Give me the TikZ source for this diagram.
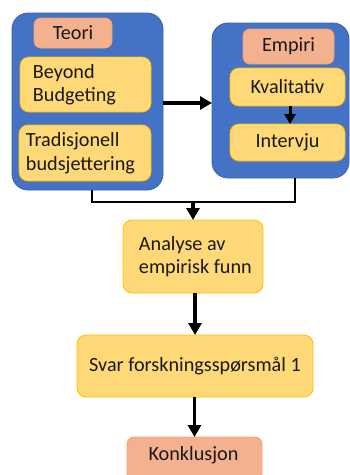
\documentclass[tikz,border=0pt]{standalone}
\usepackage{fontspec}
\setmainfont{Carlito}
\usetikzlibrary{arrows.meta}
\definecolor{cblue}{HTML}{4472C4}
\definecolor{cblueb}{HTML}{3A62AD}
\definecolor{cyel}{HTML}{FFD978}
\definecolor{cyelb}{HTML}{FFC000}
\definecolor{csal}{HTML}{F4B18F}
\definecolor{csalb}{HTML}{ED7D31}
\begin{document}
\begin{tikzpicture}[x=1pt,y=-1pt,
  every node/.style={font=\fontsize{20.2}{23.5}\selectfont, text=black!90, inner sep=0pt, outer sep=0pt},
  container/.style={draw=cblueb, line width=0.8pt, fill=cblue, rounded corners=16pt},
  ybox/.style={draw=cyelb, line width=0.8pt, fill=cyel, rounded corners=9pt},
  sbox/.style={draw=csalb!70, line width=0.8pt, fill=csal, rounded corners=7pt},
  conn/.style={line width=2.8pt, black},
  arr/.style={line width=3.6pt, black, -{Triangle[length=12pt,width=13pt]}},
]
\useasboundingbox (0,0) rectangle (349,475);
% containers
\node[container, minimum width=151pt, minimum height=177pt] (teoriC) at (87.5,101.5) {};
\node[container, minimum width=137pt, minimum height=155pt] (empiriC) at (280.5,100.5) {};
% teori content
\node[sbox, minimum width=78pt, minimum height=30pt] (teori) at (73,33) {Teori};
\node[ybox, minimum width=131pt, minimum height=55pt] (beyond) at (85.5,84.5) {};
\node[anchor=west, align=left] at ([xshift=13pt]beyond.west) {Beyond\\Budgeting};
\node[ybox, minimum width=132pt, minimum height=56pt] (trad) at (85,153) {};
\node[anchor=west, align=left] at ([xshift=7pt]trad.west) {Tradisjonell\\budsjettering};
% empiri content
\node[sbox, minimum width=91pt, minimum height=35pt] (empiri) at (288.5,46.5) {Empiri};
\node[ybox, minimum width=115pt, minimum height=38pt] (kval) at (287.5,87) {Kvalitativ};
\node[ybox, minimum width=115pt, minimum height=37pt] (interv) at (287.5,142.5) {Intervju};
% lower
\node[ybox, minimum width=140pt, minimum height=73pt] (analyse) at (193,256.5) {};
\node[anchor=west, align=left] at ([xshift=16pt]analyse.west) {Analyse av\\empirisk funn};
\node[ybox, minimum width=236pt, minimum height=62pt] (svar) at (195,366) {Svar forskningsspørsmål 1};
\node[sbox, minimum width=135pt, minimum height=44pt] (konk) at (194.5,459) {};
\node at (193.5,455.5) {Konklusjon};
% connectors
\coordinate (j) at (193,202);
\draw[arr] (teoriC.east |- 0,103) -- (empiriC.west |- 0,103);
\draw[line width=3pt, black, -{Triangle[length=10pt,width=11pt]}] (kval.south -| 290,0) -- (interv.north -| 290,0);
\draw[conn] (teoriC.south -| 92,0) |- (j) -| (empiriC.south -| 295,0);
\draw[arr] (j) -- (analyse.north);
\draw[arr] (analyse.south -| 195,0) -- (svar.north);
\draw[arr] (svar.south -| 194.5,0) -- (konk.north);
\end{tikzpicture}
\end{document}
